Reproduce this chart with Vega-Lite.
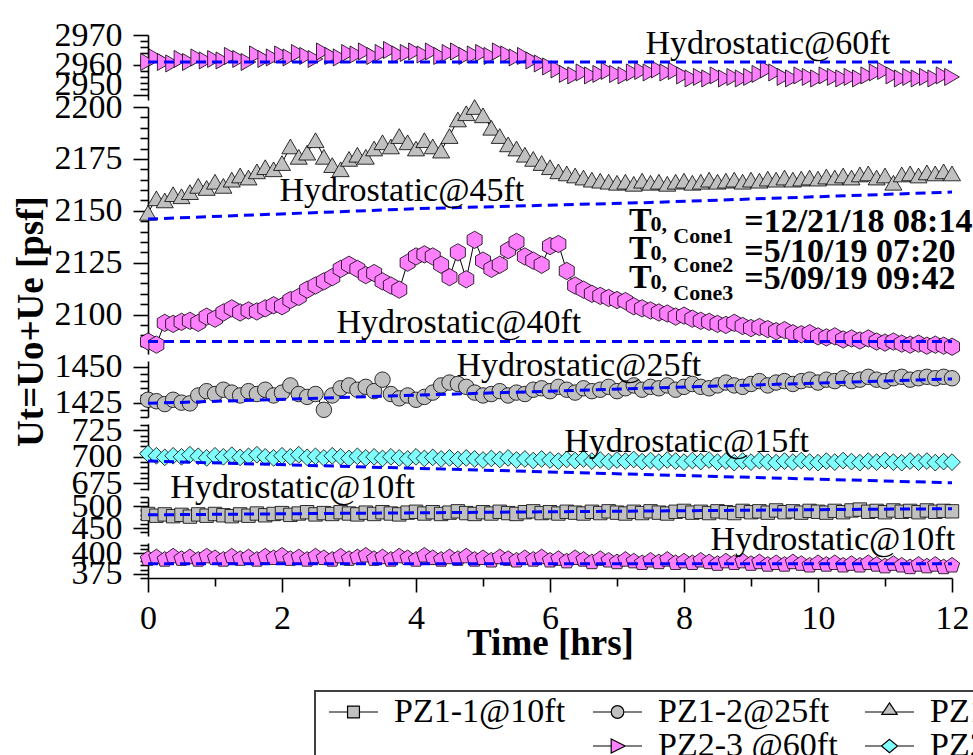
{
  "$schema": "https://vega.github.io/schema/vega-lite/v6.json",
  "background": "white",
  "padding": {"left": 12, "top": 18, "right": 0, "bottom": 0},
  "bounds": "flush",
  "spacing": 7,
  "datasets": {
    "pz23": [
      {"t":0,"v":2961},{"t":0.125,"v":2962.5},{"t":0.25,"v":2961},{"t":0.375,"v":2960.5},{"t":0.5,"v":2962},{"t":0.625,"v":2961},{"t":0.75,"v":2962.5},{"t":0.875,"v":2961.5},{"t":1,"v":2962},
      {"t":1.125,"v":2961.5},{"t":1.25,"v":2963},{"t":1.375,"v":2962},{"t":1.5,"v":2961},{"t":1.625,"v":2963.5},{"t":1.75,"v":2962},{"t":1.875,"v":2962.5},{"t":2,"v":2963.5},
      {"t":2.125,"v":2962.5},{"t":2.25,"v":2964},{"t":2.375,"v":2963},{"t":2.5,"v":2962},{"t":2.625,"v":2964.5},{"t":2.75,"v":2963},{"t":2.875,"v":2962.5},{"t":3,"v":2964},
      {"t":3.125,"v":2963.5},{"t":3.25,"v":2964.5},{"t":3.375,"v":2963},{"t":3.5,"v":2964},{"t":3.625,"v":2965},{"t":3.75,"v":2963.5},{"t":3.875,"v":2964},{"t":4,"v":2964.5},
      {"t":4.125,"v":2963.5},{"t":4.25,"v":2964.5},{"t":4.375,"v":2963},{"t":4.5,"v":2964},{"t":4.625,"v":2964.5},{"t":4.75,"v":2963},{"t":4.875,"v":2963.5},{"t":5,"v":2964},
      {"t":5.125,"v":2963},{"t":5.25,"v":2964.5},{"t":5.375,"v":2963.5},{"t":5.5,"v":2962.5},{"t":5.625,"v":2963},{"t":5.75,"v":2961.5},{"t":5.875,"v":2960.5},{"t":6,"v":2959.5},
      {"t":6.125,"v":2958.5},{"t":6.25,"v":2957},{"t":6.375,"v":2956.5},{"t":6.5,"v":2957.5},{"t":6.625,"v":2956.5},{"t":6.75,"v":2957},{"t":6.875,"v":2958},{"t":7,"v":2957},
      {"t":7.125,"v":2956.5},{"t":7.25,"v":2957.5},{"t":7.375,"v":2958},{"t":7.5,"v":2957.5},{"t":7.625,"v":2958.5},{"t":7.75,"v":2957.5},{"t":7.875,"v":2958},{"t":8,"v":2956.5},
      {"t":8.125,"v":2955.5},{"t":8.25,"v":2956},{"t":8.375,"v":2955.5},{"t":8.5,"v":2956.5},{"t":8.625,"v":2955.5},{"t":8.75,"v":2956},{"t":8.875,"v":2955.5},{"t":9,"v":2956},
      {"t":9.125,"v":2957},{"t":9.25,"v":2958.5},{"t":9.375,"v":2957.5},{"t":9.5,"v":2956},{"t":9.625,"v":2955.5},{"t":9.75,"v":2956.5},{"t":9.875,"v":2956},{"t":10,"v":2955.5},
      {"t":10.125,"v":2956.5},{"t":10.25,"v":2956},{"t":10.375,"v":2955.5},{"t":10.5,"v":2956},{"t":10.625,"v":2955.5},{"t":10.75,"v":2956.5},{"t":10.875,"v":2957.5},{"t":11,"v":2958},
      {"t":11.125,"v":2956.5},{"t":11.25,"v":2955.5},{"t":11.375,"v":2956},{"t":11.5,"v":2955.5},{"t":11.625,"v":2956},{"t":11.75,"v":2955.5},{"t":11.875,"v":2956.5},{"t":12,"v":2956}
    ],
    "pz13": [
      {"t":0,"v":2149},{"t":0.125,"v":2156},{"t":0.25,"v":2155},{"t":0.375,"v":2158},{"t":0.5,"v":2157},{"t":0.625,"v":2159},{"t":0.75,"v":2162},{"t":0.875,"v":2161},{"t":1,"v":2164},
      {"t":1.125,"v":2162},{"t":1.25,"v":2165},{"t":1.375,"v":2167},{"t":1.5,"v":2166},{"t":1.625,"v":2169},{"t":1.75,"v":2171},{"t":1.875,"v":2170},{"t":2,"v":2173},
      {"t":2.125,"v":2181},{"t":2.25,"v":2176},{"t":2.375,"v":2178},{"t":2.5,"v":2184},{"t":2.625,"v":2176},{"t":2.75,"v":2172},{"t":2.875,"v":2170},{"t":3,"v":2175},
      {"t":3.125,"v":2177},{"t":3.25,"v":2176},{"t":3.375,"v":2180},{"t":3.5,"v":2183},{"t":3.625,"v":2181},{"t":3.75,"v":2186},{"t":3.875,"v":2183},{"t":4,"v":2180},
      {"t":4.125,"v":2184},{"t":4.25,"v":2181},{"t":4.375,"v":2179},{"t":4.5,"v":2186},{"t":4.625,"v":2194},{"t":4.75,"v":2197},{"t":4.875,"v":2200},{"t":5,"v":2196},
      {"t":5.125,"v":2190},{"t":5.25,"v":2186},{"t":5.375,"v":2182},{"t":5.5,"v":2180},{"t":5.625,"v":2177},{"t":5.75,"v":2175},{"t":5.875,"v":2173},{"t":6,"v":2171},
      {"t":6.125,"v":2169},{"t":6.25,"v":2168},{"t":6.375,"v":2167},{"t":6.5,"v":2166},{"t":6.625,"v":2165},{"t":6.75,"v":2164.5},{"t":6.875,"v":2164},{"t":7,"v":2163.5},
      {"t":7.125,"v":2164},{"t":7.25,"v":2163},{"t":7.375,"v":2164.5},{"t":7.5,"v":2163.5},{"t":7.625,"v":2164},{"t":7.75,"v":2163},{"t":7.875,"v":2164},{"t":8,"v":2164.5},
      {"t":8.125,"v":2163.5},{"t":8.25,"v":2164},{"t":8.375,"v":2165},{"t":8.5,"v":2164},{"t":8.625,"v":2164.5},{"t":8.75,"v":2165},{"t":8.875,"v":2164},{"t":9,"v":2165},
      {"t":9.125,"v":2164.5},{"t":9.25,"v":2165.5},{"t":9.375,"v":2165},{"t":9.5,"v":2166},{"t":9.625,"v":2165},{"t":9.75,"v":2165.5},{"t":9.875,"v":2166},{"t":10,"v":2165.5},
      {"t":10.125,"v":2166.5},{"t":10.25,"v":2166},{"t":10.375,"v":2167},{"t":10.5,"v":2166},{"t":10.625,"v":2167.5},{"t":10.75,"v":2168},{"t":10.875,"v":2166},{"t":11,"v":2167},
      {"t":11.125,"v":2163.5},{"t":11.25,"v":2167.5},{"t":11.375,"v":2168},{"t":11.5,"v":2167},{"t":11.625,"v":2168.5},{"t":11.75,"v":2168},{"t":11.875,"v":2169},{"t":12,"v":2168}
    ],
    "pz21": [
      {"t":0,"v":2087},{"t":0.125,"v":2085.5},{"t":0.25,"v":2096},{"t":0.375,"v":2095.5},{"t":0.5,"v":2096.5},{"t":0.625,"v":2097},{"t":0.75,"v":2096},{"t":0.875,"v":2099},{"t":1,"v":2098},
      {"t":1.125,"v":2101},{"t":1.25,"v":2103},{"t":1.375,"v":2101},{"t":1.5,"v":2102},{"t":1.625,"v":2101.5},{"t":1.75,"v":2103},{"t":1.875,"v":2104.5},{"t":2,"v":2104},
      {"t":2.125,"v":2107},{"t":2.25,"v":2108.5},{"t":2.375,"v":2112},{"t":2.5,"v":2114},{"t":2.625,"v":2116},{"t":2.75,"v":2118},{"t":2.875,"v":2122},{"t":3,"v":2124},
      {"t":3.125,"v":2122},{"t":3.25,"v":2119},{"t":3.375,"v":2120},{"t":3.5,"v":2116},{"t":3.625,"v":2114},{"t":3.75,"v":2112},{"t":3.875,"v":2125},{"t":4,"v":2128},
      {"t":4.125,"v":2129},{"t":4.25,"v":2128},{"t":4.375,"v":2124},{"t":4.5,"v":2118},{"t":4.625,"v":2130},{"t":4.75,"v":2117},{"t":4.875,"v":2136},{"t":5,"v":2126},
      {"t":5.125,"v":2122},{"t":5.25,"v":2124},{"t":5.375,"v":2131},{"t":5.5,"v":2135},{"t":5.625,"v":2128},{"t":5.75,"v":2126},{"t":5.875,"v":2124},{"t":6,"v":2133},
      {"t":6.125,"v":2134},{"t":6.25,"v":2121},{"t":6.375,"v":2114},{"t":6.5,"v":2112},{"t":6.625,"v":2110},{"t":6.75,"v":2109},{"t":6.875,"v":2108},{"t":7,"v":2107},
      {"t":7.125,"v":2106.5},{"t":7.25,"v":2104},{"t":7.375,"v":2103},{"t":7.5,"v":2102},{"t":7.625,"v":2101},{"t":7.75,"v":2100.5},{"t":7.875,"v":2099},{"t":8,"v":2099.5},
      {"t":8.125,"v":2098},{"t":8.25,"v":2097},{"t":8.375,"v":2096.5},{"t":8.5,"v":2095.5},{"t":8.625,"v":2095},{"t":8.75,"v":2096},{"t":8.875,"v":2094.5},{"t":9,"v":2093.5},
      {"t":9.125,"v":2094},{"t":9.25,"v":2093},{"t":9.375,"v":2092},{"t":9.5,"v":2092.5},{"t":9.625,"v":2091},{"t":9.75,"v":2090.5},{"t":9.875,"v":2091},{"t":10,"v":2089.5},
      {"t":10.125,"v":2089},{"t":10.25,"v":2089.5},{"t":10.375,"v":2088},{"t":10.5,"v":2088.5},{"t":10.625,"v":2087.5},{"t":10.75,"v":2088.5},{"t":10.875,"v":2087},{"t":11,"v":2086.5},
      {"t":11.125,"v":2087},{"t":11.25,"v":2086},{"t":11.375,"v":2085.5},{"t":11.5,"v":2086},{"t":11.625,"v":2085},{"t":11.75,"v":2085.5},{"t":11.875,"v":2085},{"t":12,"v":2084.5}
    ],
    "pz12": [
      {"t":0,"v":1427},{"t":0.125,"v":1426},{"t":0.25,"v":1424},{"t":0.375,"v":1427},{"t":0.5,"v":1425},{"t":0.625,"v":1424.5},{"t":0.75,"v":1430},{"t":0.875,"v":1433},{"t":1,"v":1431},
      {"t":1.125,"v":1434},{"t":1.25,"v":1432},{"t":1.375,"v":1430},{"t":1.5,"v":1433},{"t":1.625,"v":1431},{"t":1.75,"v":1434},{"t":1.875,"v":1430},{"t":2,"v":1432},
      {"t":2.125,"v":1437},{"t":2.25,"v":1431},{"t":2.375,"v":1429},{"t":2.5,"v":1431},{"t":2.625,"v":1420},{"t":2.75,"v":1430},{"t":2.875,"v":1435},{"t":3,"v":1437},
      {"t":3.125,"v":1434},{"t":3.25,"v":1436},{"t":3.375,"v":1433},{"t":3.5,"v":1441},{"t":3.625,"v":1431},{"t":3.75,"v":1428},{"t":3.875,"v":1430},{"t":4,"v":1427},
      {"t":4.125,"v":1429},{"t":4.25,"v":1432},{"t":4.375,"v":1437},{"t":4.5,"v":1439},{"t":4.625,"v":1438},{"t":4.75,"v":1436},{"t":4.875,"v":1432},{"t":5,"v":1430},
      {"t":5.125,"v":1431},{"t":5.25,"v":1433},{"t":5.375,"v":1430},{"t":5.5,"v":1432},{"t":5.625,"v":1431},{"t":5.75,"v":1434},{"t":5.875,"v":1435},{"t":6,"v":1433},
      {"t":6.125,"v":1436},{"t":6.25,"v":1434},{"t":6.375,"v":1432},{"t":6.5,"v":1435},{"t":6.625,"v":1433},{"t":6.75,"v":1434},{"t":6.875,"v":1436},{"t":7,"v":1433},
      {"t":7.125,"v":1435},{"t":7.25,"v":1437},{"t":7.375,"v":1434},{"t":7.5,"v":1436},{"t":7.625,"v":1435},{"t":7.75,"v":1437},{"t":7.875,"v":1434},{"t":8,"v":1436},
      {"t":8.125,"v":1438},{"t":8.25,"v":1436},{"t":8.375,"v":1435},{"t":8.5,"v":1437},{"t":8.625,"v":1439},{"t":8.75,"v":1437},{"t":8.875,"v":1436},{"t":9,"v":1438},
      {"t":9.125,"v":1440},{"t":9.25,"v":1437},{"t":9.375,"v":1439},{"t":9.5,"v":1440},{"t":9.625,"v":1438},{"t":9.75,"v":1440},{"t":9.875,"v":1441},{"t":10,"v":1439},
      {"t":10.125,"v":1441},{"t":10.25,"v":1440},{"t":10.375,"v":1442},{"t":10.5,"v":1440},{"t":10.625,"v":1441},{"t":10.75,"v":1443},{"t":10.875,"v":1441},{"t":11,"v":1440},
      {"t":11.125,"v":1442},{"t":11.25,"v":1443},{"t":11.375,"v":1441},{"t":11.5,"v":1442},{"t":11.625,"v":1443},{"t":11.75,"v":1442},{"t":11.875,"v":1443},{"t":12,"v":1442}
    ],
    "pz22": [
      {"t":0,"v":703},{"t":0.125,"v":701},{"t":0.25,"v":699.5},{"t":0.375,"v":701},{"t":0.5,"v":700},{"t":0.625,"v":702},{"t":0.75,"v":700.5},{"t":0.875,"v":699},{"t":1,"v":701},
      {"t":1.125,"v":700},{"t":1.25,"v":701.5},{"t":1.375,"v":699.5},{"t":1.5,"v":700.5},{"t":1.625,"v":702},{"t":1.75,"v":700},{"t":1.875,"v":699},{"t":2,"v":701},
      {"t":2.125,"v":700},{"t":2.25,"v":702},{"t":2.375,"v":699.5},{"t":2.5,"v":700.5},{"t":2.625,"v":699},{"t":2.75,"v":701},{"t":2.875,"v":700},{"t":3,"v":698.5},
      {"t":3.125,"v":700.5},{"t":3.25,"v":699},{"t":3.375,"v":700},{"t":3.5,"v":698.5},{"t":3.625,"v":700},{"t":3.75,"v":699},{"t":3.875,"v":698},{"t":4,"v":700},
      {"t":4.125,"v":698.5},{"t":4.25,"v":699.5},{"t":4.375,"v":698},{"t":4.5,"v":699},{"t":4.625,"v":697.5},{"t":4.75,"v":699},{"t":4.875,"v":698},{"t":5,"v":697},
      {"t":5.125,"v":698.5},{"t":5.25,"v":697.5},{"t":5.375,"v":699},{"t":5.5,"v":697},{"t":5.625,"v":698},{"t":5.75,"v":696.5},{"t":5.875,"v":698},{"t":6,"v":697},
      {"t":6.125,"v":696},{"t":6.25,"v":697.5},{"t":6.375,"v":696.5},{"t":6.5,"v":698},{"t":6.625,"v":696},{"t":6.75,"v":697},{"t":6.875,"v":695.5},{"t":7,"v":697},
      {"t":7.125,"v":696},{"t":7.25,"v":697.5},{"t":7.375,"v":695.5},{"t":7.5,"v":696.5},{"t":7.625,"v":695},{"t":7.75,"v":697},{"t":7.875,"v":696},{"t":8,"v":695},
      {"t":8.125,"v":696.5},{"t":8.25,"v":695.5},{"t":8.375,"v":697},{"t":8.5,"v":695},{"t":8.625,"v":696},{"t":8.75,"v":694.5},{"t":8.875,"v":696},{"t":9,"v":695},
      {"t":9.125,"v":696.5},{"t":9.25,"v":695},{"t":9.375,"v":694.5},{"t":9.5,"v":696},{"t":9.625,"v":695},{"t":9.75,"v":696.5},{"t":9.875,"v":695},{"t":10,"v":694.5},
      {"t":10.125,"v":696},{"t":10.25,"v":695},{"t":10.375,"v":696.5},{"t":10.5,"v":695.5},{"t":10.625,"v":694.5},{"t":10.75,"v":696},{"t":10.875,"v":695},{"t":11,"v":696.5},
      {"t":11.125,"v":695},{"t":11.25,"v":694.5},{"t":11.375,"v":696},{"t":11.5,"v":695},{"t":11.625,"v":696},{"t":11.75,"v":694.5},{"t":11.875,"v":695.5},{"t":12,"v":695}
    ],
    "pz11": [
      {"t":0,"v":482},{"t":0.125,"v":478},{"t":0.25,"v":481},{"t":0.375,"v":477},{"t":0.5,"v":480},{"t":0.625,"v":476},{"t":0.75,"v":481},{"t":0.875,"v":478},{"t":1,"v":482},
      {"t":1.125,"v":479},{"t":1.25,"v":477},{"t":1.375,"v":481},{"t":1.5,"v":478},{"t":1.625,"v":483},{"t":1.75,"v":479},{"t":1.875,"v":482},{"t":2,"v":484},
      {"t":2.125,"v":480},{"t":2.25,"v":483},{"t":2.375,"v":486},{"t":2.5,"v":481},{"t":2.625,"v":484},{"t":2.75,"v":482},{"t":2.875,"v":486},{"t":3,"v":483},
      {"t":3.125,"v":481},{"t":3.25,"v":485},{"t":3.375,"v":482},{"t":3.5,"v":486},{"t":3.625,"v":483},{"t":3.75,"v":481},{"t":3.875,"v":485},{"t":4,"v":487},
      {"t":4.125,"v":483},{"t":4.25,"v":486},{"t":4.375,"v":482},{"t":4.5,"v":485},{"t":4.625,"v":488},{"t":4.75,"v":484},{"t":4.875,"v":482},{"t":5,"v":486},
      {"t":5.125,"v":483},{"t":5.25,"v":487},{"t":5.375,"v":484},{"t":5.5,"v":482},{"t":5.625,"v":486},{"t":5.75,"v":488},{"t":5.875,"v":484},{"t":6,"v":486},
      {"t":6.125,"v":483},{"t":6.25,"v":487},{"t":6.375,"v":485},{"t":6.5,"v":483},{"t":6.625,"v":487},{"t":6.75,"v":484},{"t":6.875,"v":488},{"t":7,"v":485},
      {"t":7.125,"v":483},{"t":7.25,"v":487},{"t":7.375,"v":484},{"t":7.5,"v":488},{"t":7.625,"v":485},{"t":7.75,"v":483},{"t":7.875,"v":487},{"t":8,"v":489},
      {"t":8.125,"v":485},{"t":8.25,"v":487},{"t":8.375,"v":484},{"t":8.5,"v":488},{"t":8.625,"v":486},{"t":8.75,"v":484},{"t":8.875,"v":489},{"t":9,"v":486},
      {"t":9.125,"v":488},{"t":9.25,"v":485},{"t":9.375,"v":490},{"t":9.5,"v":486},{"t":9.625,"v":488},{"t":9.75,"v":485},{"t":9.875,"v":489},{"t":10,"v":487},
      {"t":10.125,"v":485},{"t":10.25,"v":489},{"t":10.375,"v":486},{"t":10.5,"v":490},{"t":10.625,"v":492},{"t":10.75,"v":487},{"t":10.875,"v":489},{"t":11,"v":486},
      {"t":11.125,"v":490},{"t":11.25,"v":487},{"t":11.375,"v":489},{"t":11.5,"v":486},{"t":11.625,"v":490},{"t":11.75,"v":487},{"t":11.875,"v":489},{"t":12,"v":488}
    ],
    "pz31": [
      {"t":0,"v":393},{"t":0.125,"v":395},{"t":0.25,"v":392},{"t":0.375,"v":396},{"t":0.5,"v":393},{"t":0.625,"v":395},{"t":0.75,"v":392},{"t":0.875,"v":396},{"t":1,"v":394},
      {"t":1.125,"v":392},{"t":1.25,"v":396},{"t":1.375,"v":393},{"t":1.5,"v":395},{"t":1.625,"v":392},{"t":1.75,"v":396},{"t":1.875,"v":394},{"t":2,"v":397},
      {"t":2.125,"v":393},{"t":2.25,"v":395},{"t":2.375,"v":392},{"t":2.5,"v":396},{"t":2.625,"v":394},{"t":2.75,"v":392},{"t":2.875,"v":396},{"t":3,"v":393},
      {"t":3.125,"v":395},{"t":3.25,"v":397},{"t":3.375,"v":393},{"t":3.5,"v":395},{"t":3.625,"v":392},{"t":3.75,"v":396},{"t":3.875,"v":394},{"t":4,"v":392},
      {"t":4.125,"v":397},{"t":4.25,"v":394},{"t":4.375,"v":392},{"t":4.5,"v":395},{"t":4.625,"v":393},{"t":4.75,"v":396},{"t":4.875,"v":392},{"t":5,"v":394},
      {"t":5.125,"v":391},{"t":5.25,"v":395},{"t":5.375,"v":393},{"t":5.5,"v":391},{"t":5.625,"v":394},{"t":5.75,"v":392},{"t":5.875,"v":395},{"t":6,"v":391},
      {"t":6.125,"v":393},{"t":6.25,"v":390},{"t":6.375,"v":394},{"t":6.5,"v":392},{"t":6.625,"v":389},{"t":6.75,"v":393},{"t":6.875,"v":391},{"t":7,"v":389},
      {"t":7.125,"v":392},{"t":7.25,"v":390},{"t":7.375,"v":388},{"t":7.5,"v":391},{"t":7.625,"v":389},{"t":7.75,"v":392},{"t":7.875,"v":388},{"t":8,"v":390},
      {"t":8.125,"v":388},{"t":8.25,"v":391},{"t":8.375,"v":389},{"t":8.5,"v":387},{"t":8.625,"v":390},{"t":8.75,"v":388},{"t":8.875,"v":390},{"t":9,"v":387},
      {"t":9.125,"v":389},{"t":9.25,"v":386},{"t":9.375,"v":388},{"t":9.5,"v":386},{"t":9.625,"v":389},{"t":9.75,"v":387},{"t":9.875,"v":385},{"t":10,"v":388},
      {"t":10.125,"v":386},{"t":10.25,"v":388},{"t":10.375,"v":385},{"t":10.5,"v":387},{"t":10.625,"v":385},{"t":10.75,"v":388},{"t":10.875,"v":386},{"t":11,"v":384},
      {"t":11.125,"v":387},{"t":11.25,"v":385},{"t":11.375,"v":383},{"t":11.5,"v":386},{"t":11.625,"v":384},{"t":11.75,"v":386},{"t":11.875,"v":383},{"t":12,"v":385}
    ],
    "hydro": [
      {"h":"60","t":0,"v":2961},{"h":"60","t":12,"v":2961},
      {"h":"45","t":0,"v":2146},{"h":"45","t":4,"v":2151},{"h":"45","t":7.5,"v":2154},{"h":"45","t":12,"v":2159},
      {"h":"40","t":0,"v":2087},{"h":"40","t":12,"v":2087},
      {"h":"25","t":0,"v":1424.5},{"h":"25","t":12,"v":1441.5},
      {"h":"15","t":0,"v":696},{"h":"15","t":12,"v":675.5},
      {"h":"10a","t":0,"v":480},{"h":"10a","t":12,"v":494},
      {"h":"10b","t":0,"v":387},{"h":"10b","t":12,"v":387}
    ],
    "notes": [
      {"p":1,"t":9.25,"v":2967,"txt":"Hydrostatic@60ft"},
      {"p":2,"t":3.79,"v":2159.5,"txt":"Hydrostatic@45ft"},
      {"p":2,"t":4.64,"v":2095.9,"txt":"Hydrostatic@40ft"},
      {"p":3,"t":6.43,"v":1450.5,"txt":"Hydrostatic@25ft"},
      {"p":4,"t":8.04,"v":714,"txt":"Hydrostatic@15ft"},
      {"p":4,"t":2.16,"v":670.6,"txt":"Hydrostatic@10ft"},
      {"p":6,"t":10.22,"v":415.6,"txt":"Hydrostatic@10ft"}
    ],
    "stamp": [
      {"part":"main","t":7.18,"v":2145.1,"txt":"T"},
      {"part":"sub","t":7.5,"v":2143.6,"txt":"0,"},
      {"part":"sub","t":7.84,"v":2137.9,"txt":"Cone1"},
      {"part":"main","t":8.9,"v":2144.6,"txt":"=12/21/18 08:14"},
      {"part":"main","t":7.18,"v":2131.6,"txt":"T"},
      {"part":"sub","t":7.5,"v":2129.6,"txt":"0,"},
      {"part":"sub","t":7.84,"v":2123.9,"txt":"Cone2"},
      {"part":"main","t":8.9,"v":2130.1,"txt":"=5/10/19 07:20"},
      {"part":"main","t":7.18,"v":2117.6,"txt":"T"},
      {"part":"sub","t":7.5,"v":2115.7,"txt":"0,"},
      {"part":"sub","t":7.84,"v":2110.4,"txt":"Cone3"},
      {"part":"main","t":8.9,"v":2117.1,"txt":"=5/09/19 09:42"}
    ],
    "series": [
      {"s":"PZ1-1@10ft"},{"s":"PZ1-2@25ft"},{"s":"PZ1-3@45ft"},{"s":" "},
      {"s":"PZ2-3 @60ft"},{"s":"PZ2-2@15ft"},{"s":"PZ2-1@40ft"},{"s":"PZ3-1@10ft"}
    ]
  },
  "vconcat": [
    {
      "width": 804, "height": 65,
      "encoding": {
        "x": {"field": "t", "type": "quantitative", "scale": {"domain": [0, 12], "nice": false}, "axis": null},
        "y": {"field": "v", "type": "quantitative", "scale": {"domain": [2948.3, 2970], "nice": false, "zero": false},
          "axis": {"title": null, "format": "d", "values": [2950,2952,2954,2956,2958,2960,2962,2964,2966,2968,2970],
            "labelExpr": "datum.value % 10 === 0 ? datum.label : ''",
            "tickSize": {"condition": {"test": "datum.value % 10 === 0", "value": 15}, "value": 8},
            "labelBaseline": {"condition": {"test": "datum.value === 2950", "value": "alphabetic"}, "value": "middle"}}}
      },
      "layer": [
        {"data": {"name": "pz23"}, "layer": [
          {"mark": {"type": "line", "color": "black", "strokeWidth": 1}},
          {"mark": {"type": "point", "shape": "triangle-right", "filled": true, "fill": "#ff80ff", "stroke": "black", "strokeWidth": 0.8, "size": 290, "opacity": 1}}
        ]},
        {"data": {"name": "hydro"}, "transform": [{"filter": "datum.h === '60'"}],
          "mark": {"type": "line", "color": "#0000ff", "strokeWidth": 3, "strokeDash": [10, 6]}, "encoding": {"detail": {"field": "h"}}},
        {"data": {"name": "notes"}, "transform": [{"filter": "datum.p === 1"}],
          "mark": {"type": "text", "fontSize": 34, "align": "center", "baseline": "middle"}, "encoding": {"text": {"field": "txt"}}},
        {"data": {"values": [{}]}, "mark": {"type": "rule", "color": "black", "strokeWidth": 1.5},
          "encoding": {"x": {"datum": -0.27}, "x2": {"datum": 0.31}, "y": {"datum": 2948.6}, "y2": {"datum": 2951.6}}}
      ]
    },
    {
      "width": 804, "height": 247,
      "encoding": {
        "x": {"field": "t", "type": "quantitative", "scale": {"domain": [0, 12], "nice": false}, "axis": null},
        "y": {"field": "v", "type": "quantitative", "scale": {"domain": [2081, 2200], "nice": false, "zero": false},
          "axis": {"format": "d", "values": [2085,2090,2095,2100,2105,2110,2115,2120,2125,2130,2135,2140,2145,2150,2155,2160,2165,2170,2175,2180,2185,2190,2195,2200],
            "labelExpr": "datum.value % 25 === 0 ? datum.label : ''",
            "tickSize": {"condition": {"test": "datum.value % 25 === 0", "value": 15}, "value": 8},
            "title": "Ut=Uo+Ue [psf]", "titleFontSize": 37, "titleX": -106, "titleY": 214, "titleBaseline": "alphabetic", "titleAngle": -90}}
      },
      "layer": [
        {"data": {"name": "pz13"}, "layer": [
          {"mark": {"type": "line", "color": "black", "strokeWidth": 1}},
          {"mark": {"type": "point", "shape": "triangle-up", "filled": true, "fill": "#c0c0c0", "stroke": "black", "strokeWidth": 0.8, "size": 290, "opacity": 1}}
        ]},
        {"data": {"name": "pz21"}, "layer": [
          {"mark": {"type": "line", "color": "black", "strokeWidth": 1}},
          {"mark": {"type": "point", "shape": "M0,-1L0.866,-0.5L0.866,0.5L0,1L-0.866,0.5L-0.866,-0.5Z", "filled": true, "fill": "#ff80ff", "stroke": "black", "strokeWidth": 0.8, "size": 300, "opacity": 1}}
        ]},
        {"data": {"name": "hydro"}, "transform": [{"filter": "datum.h === '45' || datum.h === '40'"}],
          "mark": {"type": "line", "color": "#0000ff", "strokeWidth": 3, "strokeDash": [10, 6]}, "encoding": {"detail": {"field": "h"}}},
        {"data": {"name": "notes"}, "transform": [{"filter": "datum.p === 2"}],
          "mark": {"type": "text", "fontSize": 34, "align": "center", "baseline": "middle"}, "encoding": {"text": {"field": "txt"}}},
        {"data": {"name": "stamp"}, "transform": [{"filter": "datum.part === 'main'"}],
          "mark": {"type": "text", "fontSize": 34, "fontWeight": "bold", "align": "left", "baseline": "middle"}, "encoding": {"text": {"field": "txt"}}},
        {"data": {"name": "stamp"}, "transform": [{"filter": "datum.part === 'sub'"}],
          "mark": {"type": "text", "fontSize": 22, "fontWeight": "bold", "align": "left", "baseline": "middle"}, "encoding": {"text": {"field": "txt"}}},
        {"data": {"values": [{}]}, "mark": {"type": "rule", "color": "black", "strokeWidth": 1.5},
          "encoding": {"x": {"datum": -0.27}, "x2": {"datum": 0.31}, "y": {"datum": 2199.5}, "y2": {"datum": 2203.9}}},
        {"data": {"values": [{}]}, "mark": {"type": "rule", "color": "black", "strokeWidth": 1.5},
          "encoding": {"x": {"datum": -0.27}, "x2": {"datum": 0.31}, "y": {"datum": 2081.5}, "y2": {"datum": 2085.8}}}
      ]
    },
    {
      "width": 804, "height": 56,
      "encoding": {
        "x": {"field": "t", "type": "quantitative", "scale": {"domain": [0, 12], "nice": false}, "axis": null},
        "y": {"field": "v", "type": "quantitative", "scale": {"domain": [1415, 1454], "nice": false, "zero": false},
          "axis": {"title": null, "format": "d", "values": [1415,1420,1425,1430,1435,1440,1445,1450],
            "labelExpr": "datum.value % 25 === 0 ? datum.label : ''",
            "tickSize": {"condition": {"test": "datum.value % 25 === 0", "value": 15}, "value": 8}}}
      },
      "layer": [
        {"data": {"name": "pz12"}, "layer": [
          {"mark": {"type": "line", "color": "black", "strokeWidth": 1}},
          {"mark": {"type": "point", "shape": "circle", "filled": true, "fill": "#c0c0c0", "stroke": "black", "strokeWidth": 0.8, "size": 240, "opacity": 1}}
        ]},
        {"data": {"name": "hydro"}, "transform": [{"filter": "datum.h === '25'"}],
          "mark": {"type": "line", "color": "#0000ff", "strokeWidth": 3, "strokeDash": [10, 6]}, "encoding": {"detail": {"field": "h"}}},
        {"data": {"name": "notes"}, "transform": [{"filter": "datum.p === 3"}],
          "mark": {"type": "text", "fontSize": 34, "align": "center", "baseline": "middle"}, "encoding": {"text": {"field": "txt"}}},
        {"data": {"values": [{}]}, "mark": {"type": "rule", "color": "black", "strokeWidth": 1.5},
          "encoding": {"x": {"datum": -0.27}, "x2": {"datum": 0.31}, "y": {"datum": 1453.3}, "y2": {"datum": 1459.6}}},
        {"data": {"values": [{}]}, "mark": {"type": "rule", "color": "black", "strokeWidth": 1.5},
          "encoding": {"x": {"datum": -0.27}, "x2": {"datum": 0.31}, "y": {"datum": 1415.7}, "y2": {"datum": 1422}}}
      ]
    },
    {
      "width": 804, "height": 66,
      "encoding": {
        "x": {"field": "t", "type": "quantitative", "scale": {"domain": [0, 12], "nice": false}, "axis": null},
        "y": {"field": "v", "type": "quantitative", "scale": {"domain": [668.7, 731], "nice": false, "zero": false},
          "axis": {"title": null, "format": "d", "values": [670,675,680,685,690,695,700,705,710,715,720,725,730],
            "labelExpr": "datum.value % 25 === 0 ? datum.label : ''",
            "tickSize": {"condition": {"test": "datum.value % 25 === 0", "value": 15}, "value": 8}}}
      },
      "layer": [
        {"data": {"name": "pz22"}, "layer": [
          {"mark": {"type": "line", "color": "black", "strokeWidth": 1}},
          {"mark": {"type": "point", "shape": "diamond", "filled": true, "fill": "#80ffff", "stroke": "black", "strokeWidth": 0.8, "size": 280, "opacity": 1}}
        ]},
        {"data": {"name": "hydro"}, "transform": [{"filter": "datum.h === '15'"}],
          "mark": {"type": "line", "color": "#0000ff", "strokeWidth": 3, "strokeDash": [10, 6]}, "encoding": {"detail": {"field": "h"}}},
        {"data": {"name": "notes"}, "transform": [{"filter": "datum.p === 4"}],
          "mark": {"type": "text", "fontSize": 34, "align": "center", "baseline": "middle"}, "encoding": {"text": {"field": "txt"}}},
        {"data": {"values": [{}]}, "mark": {"type": "rule", "color": "black", "strokeWidth": 1.5},
          "encoding": {"x": {"datum": -0.27}, "x2": {"datum": 0.31}, "y": {"datum": 730.1}, "y2": {"datum": 738.5}}},
        {"data": {"values": [{}]}, "mark": {"type": "rule", "color": "black", "strokeWidth": 1.5},
          "encoding": {"x": {"datum": -0.27}, "x2": {"datum": 0.31}, "y": {"datum": 669.6}, "y2": {"datum": 678.1}}}
      ]
    },
    {
      "width": 804, "height": 39,
      "encoding": {
        "x": {"field": "t", "type": "quantitative", "scale": {"domain": [0, 12], "nice": false}, "axis": null},
        "y": {"field": "v", "type": "quantitative", "scale": {"domain": [432, 520.5], "nice": false, "zero": false},
          "axis": {"title": null, "format": "d", "values": [440,450,460,470,480,490,500,510,520],
            "labelExpr": "datum.value % 50 === 0 ? datum.label : ''",
            "tickSize": {"condition": {"test": "datum.value % 50 === 0", "value": 15}, "value": 8}}}
      },
      "layer": [
        {"data": {"name": "pz11"}, "layer": [
          {"mark": {"type": "line", "color": "black", "strokeWidth": 1}},
          {"mark": {"type": "point", "shape": "square", "filled": true, "fill": "#c0c0c0", "stroke": "black", "strokeWidth": 0.8, "size": 180, "opacity": 1}}
        ]},
        {"data": {"name": "hydro"}, "transform": [{"filter": "datum.h === '10a'"}],
          "mark": {"type": "line", "color": "#0000ff", "strokeWidth": 3, "strokeDash": [10, 6]}, "encoding": {"detail": {"field": "h"}}},
        {"data": {"values": [{}]}, "mark": {"type": "rule", "color": "black", "strokeWidth": 1.5},
          "encoding": {"x": {"datum": -0.27}, "x2": {"datum": 0.31}, "y": {"datum": 518.2}, "y2": {"datum": 538.7}}},
        {"data": {"values": [{}]}, "mark": {"type": "rule", "color": "black", "strokeWidth": 1.5},
          "encoding": {"x": {"datum": -0.27}, "x2": {"datum": 0.31}, "y": {"datum": 434.3}, "y2": {"datum": 454.7}}}
      ]
    },
    {
      "width": 804, "height": 35,
      "encoding": {
        "x": {"field": "t", "type": "quantitative", "scale": {"domain": [0, 12], "nice": false},
          "axis": {"format": "d", "values": [0,1,2,3,4,5,6,7,8,9,10,11,12],
            "labelExpr": "datum.value % 2 === 0 ? datum.label : ''",
            "tickSize": {"condition": {"test": "datum.value % 2 === 0", "value": 14}, "value": 8},
            "labelPadding": 9, "title": "Time [hrs]", "titleFontSize": 37, "titlePadding": -10}},
        "y": {"field": "v", "type": "quantitative", "scale": {"domain": [370, 412], "nice": false, "zero": false},
          "axis": {"title": null, "format": "d", "values": [370,375,380,385,390,395,400,405,410],
            "labelExpr": "datum.value % 25 === 0 ? datum.label : ''",
            "tickSize": {"condition": {"test": "datum.value % 25 === 0", "value": 15}, "value": 8}}}
      },
      "layer": [
        {"data": {"name": "pz31"}, "layer": [
          {"mark": {"type": "line", "color": "black", "strokeWidth": 1}},
          {"mark": {"type": "point", "shape": "M0,-1L0.951,-0.309L0.588,0.809L-0.588,0.809L-0.951,-0.309Z", "filled": true, "fill": "#ff80ff", "stroke": "black", "strokeWidth": 0.8, "size": 260, "opacity": 1}}
        ]},
        {"data": {"name": "hydro"}, "transform": [{"filter": "datum.h === '10b'"}],
          "mark": {"type": "line", "color": "#0000ff", "strokeWidth": 3, "strokeDash": [10, 6]}, "encoding": {"detail": {"field": "h"}}},
        {"data": {"name": "notes"}, "transform": [{"filter": "datum.p === 6"}],
          "mark": {"type": "text", "fontSize": 34, "align": "center", "baseline": "middle"}, "encoding": {"text": {"field": "txt"}}},
        {"data": {"values": [{}]}, "mark": {"type": "rule", "color": "black", "strokeWidth": 1.5},
          "encoding": {"x": {"datum": -0.27}, "x2": {"datum": 0.31}, "y": {"datum": 410.8}, "y2": {"datum": 421.6}}},
        {"data": {"name": "series"}, "transform": [{"filter": "false"}],
          "mark": {"type": "point", "filled": true, "strokeWidth": 1.2, "opacity": 1},
          "encoding": {
            "x": {"datum": 0}, "y": {"datum": 400},
            "fill": {"field": "s", "type": "nominal",
              "scale": {"domain": ["PZ1-1@10ft","PZ1-2@25ft","PZ1-3@45ft"," ","PZ2-3 @60ft","PZ2-2@15ft","PZ2-1@40ft","PZ3-1@10ft"],
                "range": ["#c0c0c0","#c0c0c0","#c0c0c0","transparent","#ff80ff","#80ffff","#ff80ff","#ff80ff"]},
              "legend": {"orient": "none", "legendX": 167, "legendY": 656, "columns": 3, "direction": "horizontal", "title": null,
                "labelFont": "Liberation Serif", "labelFontSize": 34, "labelColor": "black", "labelOffset": 41, "labelLimit": 400,
                "symbolSize": 196, "symbolStrokeWidth": 1.2, "symbolOpacity": 1,
                "columnPadding": 17, "rowPadding": 0, "padding": 4, "strokeColor": "#404040", "fillColor": "white"}},
            "stroke": {"field": "s", "type": "nominal",
              "scale": {"domain": ["PZ1-1@10ft","PZ1-2@25ft","PZ1-3@45ft"," ","PZ2-3 @60ft","PZ2-2@15ft","PZ2-1@40ft","PZ3-1@10ft"],
                "range": ["black","black","black","transparent","black","black","black","black"]},
              "legend": {"orient": "none", "legendX": 167, "legendY": 656, "columns": 3, "direction": "horizontal", "title": null,
                "labelFont": "Liberation Serif", "labelFontSize": 34, "labelColor": "black", "labelOffset": 41, "labelLimit": 400,
                "symbolSize": 196, "symbolStrokeWidth": 1.2, "symbolOpacity": 1,
                "columnPadding": 17, "rowPadding": 0, "padding": 4, "strokeColor": "#404040", "fillColor": "white"}},
            "shape": {"field": "s", "type": "nominal",
              "scale": {"domain": ["PZ1-1@10ft","PZ1-2@25ft","PZ1-3@45ft"," ","PZ2-3 @60ft","PZ2-2@15ft","PZ2-1@40ft","PZ3-1@10ft"],
                "range": [
                  "M-1,0H1.65M3.35,0H6M1.65,-0.85H3.35V0.85H1.65Z",
                  "M-1,0H1.6M3.4,0H6M1.6,0A0.9,0.9,0,1,1,3.4,0A0.9,0.9,0,1,1,1.6,0Z",
                  "M-1,0H1.63M3.37,0H6M2.5,-1.3L3.6,0.35H1.4Z",
                  "M0,0",
                  "M-1,0H1.6M3.6,0H6M1.6,-1L3.6,0L1.6,1Z",
                  "M-1,0H1.35M3.65,0H6M2.5,-0.95L3.65,0L2.5,0.95L1.35,0Z",
                  "M-1,0H1.63M3.37,0H6M2.5,-1L3.37,-0.5L3.37,0.5L2.5,1L1.63,0.5L1.63,-0.5Z",
                  "M-1,0H1.65M3.35,0H6M2.5,-1L3.45,-0.31L3.09,0.81L1.91,0.81L1.55,-0.31Z"
                ]},
              "legend": {"orient": "none", "legendX": 167, "legendY": 656, "columns": 3, "direction": "horizontal", "title": null,
                "labelFont": "Liberation Serif", "labelFontSize": 34, "labelColor": "black", "labelOffset": 41, "labelLimit": 400,
                "symbolSize": 196, "symbolStrokeWidth": 1.2, "symbolOpacity": 1,
                "columnPadding": 17, "rowPadding": 0, "padding": 4, "strokeColor": "#404040", "fillColor": "white"}}
          }}
      ]
    }
  ],
  "config": {
    "view": {"stroke": null},
    "font": "Liberation Serif",
    "axis": {"labelFont": "Liberation Serif", "labelFontSize": 34, "labelColor": "black", "labelPadding": 11,
      "domainColor": "black", "domainWidth": 1.6, "tickColor": "black", "tickWidth": 1.6, "grid": false,
      "labelOverlap": false, "labelFlush": false, "labelBound": false,
      "titleFont": "Liberation Serif", "titleFontWeight": "bold", "titleColor": "black"},
    "text": {"font": "Liberation Serif", "color": "black"},
    "legend": {"strokeWidth": 2}
  }
}
